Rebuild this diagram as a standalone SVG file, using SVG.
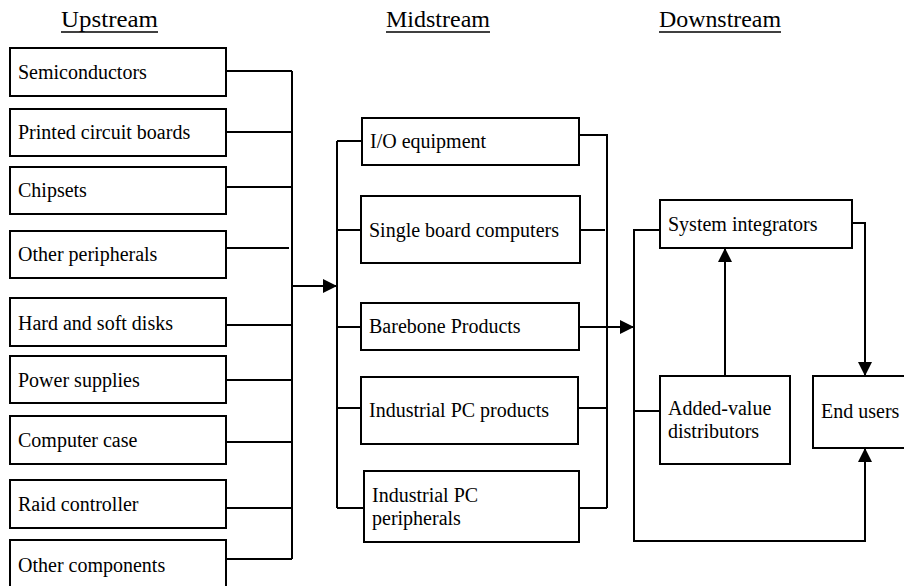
<svg xmlns="http://www.w3.org/2000/svg" width="904" height="586" viewBox="0 0 904 586">
<style>
.box{fill:#fff;stroke:#000;stroke-width:2}
.c{fill:none;stroke:#000;stroke-width:2}
.u{stroke:#000;stroke-width:1.5}
</style>
<defs>
<marker id="arr" markerUnits="userSpaceOnUse" markerWidth="14" markerHeight="14" refX="14" refY="7" orient="auto">
<path d="M0,0 L14,7 L0,14 z" fill="#000"/>
</marker>
</defs>
<rect width="904" height="586" fill="#fff"/>
<g id="headers" font-family="Liberation Serif, DejaVu Serif, serif" font-size="24" fill="#000">
<text x="61" y="27" textLength="97" lengthAdjust="spacingAndGlyphs">Upstream</text>
<line class="u" x1="61" y1="32" x2="158" y2="32"/>
<text x="386" y="27" textLength="104" lengthAdjust="spacingAndGlyphs">Midstream</text>
<line class="u" x1="386" y1="32" x2="490" y2="32"/>
<text x="659" y="27" textLength="122" lengthAdjust="spacingAndGlyphs">Downstream</text>
<line class="u" x1="659" y1="32" x2="781" y2="32"/>
</g>
<g id="connectors">
<path class="c" d="M292,71 V559"/>
<path class="c" d="M226,71 H292"/>
<path class="c" d="M226,132 H292"/>
<path class="c" d="M226,187 H292"/>
<path class="c" d="M226,248 H289"/>
<path class="c" d="M226,325 H292"/>
<path class="c" d="M226,380 H292"/>
<path class="c" d="M226,442 H292"/>
<path class="c" d="M226,508 H292"/>
<path class="c" d="M226,559 H292"/>
<path class="c" d="M292,286 H337" marker-end="url(#arr)"/>
<path class="c" d="M337,141 V508"/>
<path class="c" d="M337,141 H362"/>
<path class="c" d="M337,230 H361"/>
<path class="c" d="M337,327 H361"/>
<path class="c" d="M337,408 H361"/>
<path class="c" d="M337,508 H364"/>
<path class="c" d="M579,135 H607 V508"/>
<path class="c" d="M580,230 H605"/>
<path class="c" d="M578,408 H607"/>
<path class="c" d="M579,508 H607"/>
<path class="c" d="M579,327 H634" marker-end="url(#arr)"/>
<path class="c" d="M660,230 H634 V541 H865 V448" marker-end="url(#arr)"/>
<path class="c" d="M634,411 H660"/>
<path class="c" d="M725,376 V248" marker-end="url(#arr)"/>
<path class="c" d="M852,223 H865 V376" marker-end="url(#arr)"/>
</g>
<g font-family="Liberation Serif, DejaVu Serif, serif" font-size="20" fill="#000">
<g id="semiconductors"><rect class="box" x="10" y="48" width="216" height="48"/><text x="18" y="79">Semiconductors</text></g>
<g id="pcb"><rect class="box" x="10" y="109" width="216" height="47"/><text x="18" y="139">Printed circuit boards</text></g>
<g id="chipsets"><rect class="box" x="10" y="167" width="216" height="47"/><text x="18" y="197">Chipsets</text></g>
<g id="other-peripherals"><rect class="box" x="10" y="231" width="216" height="47"/><text x="18" y="261">Other peripherals</text></g>
<g id="disks"><rect class="box" x="10" y="298" width="216" height="48"/><text x="18" y="330">Hard and soft disks</text></g>
<g id="power"><rect class="box" x="10" y="356" width="216" height="47"/><text x="18" y="387">Power supplies</text></g>
<g id="case"><rect class="box" x="10" y="416" width="216" height="48"/><text x="18" y="447">Computer case</text></g>
<g id="raid"><rect class="box" x="10" y="480" width="216" height="48"/><text x="18" y="511">Raid controller</text></g>
<g id="other-components"><rect class="box" x="10" y="540" width="216" height="50"/><text x="18" y="572">Other components</text></g>
<g id="io"><rect class="box" x="362" y="118" width="217" height="47"/><text x="370" y="148">I/O equipment</text></g>
<g id="sbc"><rect class="box" x="361" y="196" width="219" height="67"/><text x="369" y="237">Single board computers</text></g>
<g id="barebone"><rect class="box" x="361" y="303" width="218" height="47"/><text x="369" y="333">Barebone Products</text></g>
<g id="ipc-products"><rect class="box" x="361" y="377" width="217" height="67"/><text x="369" y="417">Industrial PC products</text></g>
<g id="ipc-peripherals"><rect class="box" x="364" y="471" width="215" height="71"/><text x="372" y="502">Industrial PC</text><text x="372" y="525">peripherals</text></g>
<g id="system-integrators"><rect class="box" x="660" y="200" width="192" height="48"/><text x="668" y="231">System integrators</text></g>
<g id="added-value"><rect class="box" x="660" y="376" width="130" height="88"/><text x="668" y="415">Added-value</text><text x="668" y="438">distributors</text></g>
<g id="end-users"><rect class="box" x="813" y="376" width="100" height="72"/><text x="821" y="418">End users</text></g>
</g>
</svg>
